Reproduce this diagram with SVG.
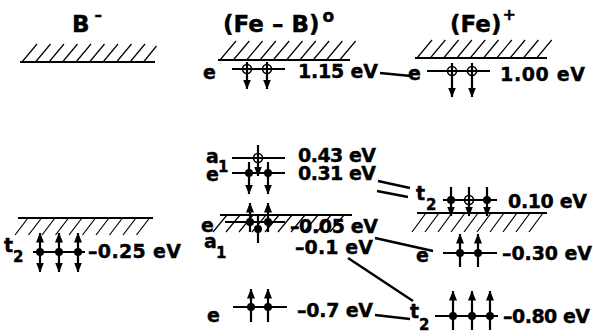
<svg xmlns="http://www.w3.org/2000/svg" width="593" height="336" viewBox="0 0 593 336">
<defs>
<marker id="ah" viewBox="0 0 10 8" refX="9.5" refY="4" markerWidth="10" markerHeight="8" markerUnits="userSpaceOnUse" orient="auto-start-reverse"><path d="M0,0 L10,4 L0,8 z" fill="#000"/></marker>
</defs>
<style>
text{font-family:"DejaVu Sans","Liberation Sans",sans-serif;font-weight:bold;fill:#000;stroke:#000;stroke-width:0.4}
.t{font-size:23px}
.v{font-size:19px}
.s{font-size:15px}
.lv{stroke:#000;stroke-width:2;fill:none}
.h{stroke:#000;stroke-width:1.2;fill:none}
.el{stroke:#000;stroke-width:2.2;fill:none;marker-end:url(#ah)}
.db{marker-start:url(#ah)}
.nm{marker-end:none}
.dot{fill:#000}
.op{fill:none;stroke:#000;stroke-width:1.6}
.cn{stroke:#000;stroke-width:2.4;fill:none}
</style>
<rect width="593" height="336" fill="#fff"/>

<!-- B- column -->
<g id="b-title"><text class="t" x="72" y="32" font-size="24">B<tspan font-size="15" dx="5" dy="-12">–</tspan></text></g>
<g id="b-band-top">
<path class="lv" d="M20 62H155"/>
<path class="h" d="M22 62l15 -18M35.5 62l15 -18M49 62l15 -18M62.5 62l15 -18M76 62l15 -18M89.5 62l15 -18M103 62l15 -18M116.5 62l15 -18M130 62l15 -18M143.5 62l13 -16"/>
</g>
<g id="b-band-low">
<path class="lv" d="M18 218H153"/>
<path class="h" d="M15 235l13 -17M28.5 235l13 -17M42 235l13 -17M55.5 235l13 -17M69 235l13 -17M82.5 235l13 -17M96 235l13 -17M109.5 235l13 -17M123 235l13 -17M136.5 235l13 -17"/>
</g>
<g id="b-t2">
<path class="lv" d="M33 252H85"/>
<line class="el db" x1="40" y1="233" x2="40" y2="272"/>
<line class="el db" x1="59" y1="233" x2="59" y2="272"/>
<line class="el db" x1="78" y1="233" x2="78" y2="272"/>
<circle class="dot" cx="40" cy="252" r="4"/><circle class="dot" cx="59" cy="252" r="4"/><circle class="dot" cx="78" cy="252" r="4"/>
<text class="v" x="4" y="252">t</text><text class="s" x="13" y="262">2</text>
<text class="v" x="88" y="258" textLength="93">–0.25 eV</text>
</g>

<!-- (Fe-B)0 column -->
<g id="feb-title"><text class="t" x="223" y="32">(Fe – B)<tspan font-size="17" dx="3" dy="-10">o</tspan></text></g>
<g id="feb-band-top">
<path class="lv" d="M218 60H350"/>
<path class="h" d="M220 60l16 -19M233.3 60l16 -19M246.6 60l16 -19M259.9 60l16 -19M273.2 60l16 -19M286.5 60l16 -19M299.8 60l16 -19M313.1 60l16 -19M326.4 60l16 -19M339.7 60l16 -19"/>
</g>
<g id="feb-e-115">
<path class="lv" d="M232 69H285"/>
<line class="el" x1="247" y1="62" x2="247" y2="89"/>
<line class="el" x1="267" y1="62" x2="267" y2="89"/>
<circle class="op" cx="247" cy="69" r="4.5"/><circle class="op" cx="267" cy="69" r="4.5"/>
<text class="v" x="203" y="79">e</text>
<text class="v" x="298" y="78" textLength="80">1.15 eV</text>
</g>
<g id="feb-a1-043">
<path class="lv" d="M232 158H285"/>
<line class="el" x1="258" y1="145" x2="258" y2="176"/>
<circle class="op" cx="258" cy="158" r="4.5"/>
<text class="v" x="206" y="163">a</text><text class="s" x="218" y="172">1</text>
<text class="v" x="298" y="162" textLength="78">0.43 eV</text>
</g>
<g id="feb-e-031">
<path class="lv" d="M232 173H285"/>
<line class="el" x1="249" y1="162" x2="249" y2="194"/>
<line class="el" x1="268" y1="162" x2="268" y2="194"/>
<circle class="dot" cx="249" cy="173" r="4"/><circle class="dot" cx="268" cy="173" r="4"/>
<text class="v" x="206" y="181">e</text>
<text class="v" x="298" y="180" textLength="78">0.31 eV</text>
</g>
<g id="feb-band-mid">
<path class="lv" d="M220 215H352"/>
<path class="h" d="M213 232l14 -17M226 232l14 -17M239 232l14 -17M252 232l14 -17M265 232l14 -17M278 232l14 -17M291 232l14 -17M304 232l14 -17M317 232l14 -17M330 232l14 -17"/>
</g>
<g id="feb-e-m005">
<path class="lv" d="M225 222H285"/>
<line class="el" x1="250" y1="232" x2="250" y2="203"/>
<line class="el" x1="268" y1="232" x2="268" y2="203"/>
<circle class="dot" cx="250" cy="222" r="4"/><circle class="dot" cx="268" cy="222" r="4"/>
<text class="v" x="201" y="232">e</text>
<text class="v" x="290" y="233" textLength="88">–0.05 eV</text>
</g>
<g id="feb-a1-m01">
<line class="el nm" x1="258" y1="214" x2="258" y2="243"/>
<circle class="dot" cx="258" cy="229" r="4"/>
<text class="v" x="204" y="248">a</text><text class="s" x="216" y="258">1</text>
<text class="v" x="295" y="254" textLength="78">–0.1 eV</text>
</g>
<g id="feb-e-m07">
<path class="lv" d="M233 307H287"/>
<line class="el" x1="251" y1="322" x2="251" y2="289"/>
<line class="el" x1="268" y1="322" x2="268" y2="289"/>
<circle class="dot" cx="251" cy="307" r="4"/><circle class="dot" cx="268" cy="307" r="4"/>
<text class="v" x="207" y="322">e</text>
<text class="v" x="297" y="317" textLength="76">–0.7 eV</text>
</g>

<!-- (Fe)+ column -->
<g id="fe-title"><text class="t" x="450" y="32">(Fe)<tspan font-size="16" dx="1" dy="-12">+</tspan></text></g>
<g id="fe-band-top">
<path class="lv" d="M415 58H547"/>
<path class="h" d="M417 58l15 -18M430.3 58l15 -18M443.6 58l15 -18M456.9 58l15 -18M470.2 58l15 -18M483.5 58l15 -18M496.8 58l15 -18M510.1 58l15 -18M523.4 58l15 -18M536.7 58l15 -18"/>
</g>
<g id="fe-e-100">
<path class="lv" d="M427 71H490"/>
<line class="el" x1="452" y1="63" x2="452" y2="97"/>
<line class="el" x1="472" y1="63" x2="472" y2="97"/>
<circle class="op" cx="452" cy="71" r="4.5"/><circle class="op" cx="472" cy="71" r="4.5"/>
<text class="v" x="408" y="80">e</text>
<text class="v" x="500" y="81" textLength="85">1.00 eV</text>
</g>
<g id="fe-t2-010">
<path class="lv" d="M443 200H497"/>
<line class="el" x1="451" y1="187" x2="451" y2="216"/>
<line class="el" x1="469" y1="187" x2="469" y2="216"/>
<line class="el" x1="487" y1="187" x2="487" y2="216"/>
<circle class="dot" cx="451" cy="200" r="4"/><circle class="op" cx="469" cy="200" r="4.5"/><circle class="dot" cx="487" cy="200" r="4"/>
<text class="v" x="416" y="200">t</text><text class="s" x="426" y="210">2</text>
<text class="v" x="508" y="208" textLength="79">0.10 eV</text>
</g>
<g id="fe-band-low">
<path class="lv" d="M417 213H547"/>
<path class="h" d="M412 232l14 -19M425 232l14 -19M438 232l14 -19M451 232l14 -19M464 232l14 -19M477 232l14 -19M490 232l14 -19M503 232l14 -19M516 232l14 -19M529 232l14 -19"/>
</g>
<g id="fe-e-m030">
<path class="lv" d="M443 253H497"/>
<line class="el" x1="460" y1="267" x2="460" y2="234"/>
<line class="el" x1="478" y1="267" x2="478" y2="234"/>
<circle class="dot" cx="460" cy="253" r="4"/><circle class="dot" cx="478" cy="253" r="4"/>
<text class="v" x="416" y="262">e</text>
<text class="v" x="502" y="260" textLength="90">–0.30 eV</text>
</g>
<g id="fe-t2-m080">
<path class="lv" d="M435 316H498"/>
<line class="el" x1="453" y1="330" x2="453" y2="291"/>
<line class="el" x1="472" y1="330" x2="472" y2="291"/>
<line class="el" x1="490" y1="330" x2="490" y2="291"/>
<circle class="dot" cx="453" cy="316" r="4"/><circle class="dot" cx="472" cy="316" r="4"/><circle class="dot" cx="490" cy="316" r="4"/>
<text class="v" x="410" y="318">t</text><text class="s" x="419" y="330">2</text>
<text class="v" x="503" y="323" textLength="87">–0.80 eV</text>
</g>

<!-- connectors -->
<g id="connectors">
<path class="cn" d="M380 73L411 76"/>
<path class="cn" d="M378 181L410 188M377 191L408 197"/>
<path class="cn" d="M375 238L433 251"/>
<path class="cn" d="M348 258L413 301"/>
<path class="cn" d="M375 315L410 319"/>
</g>
</svg>
